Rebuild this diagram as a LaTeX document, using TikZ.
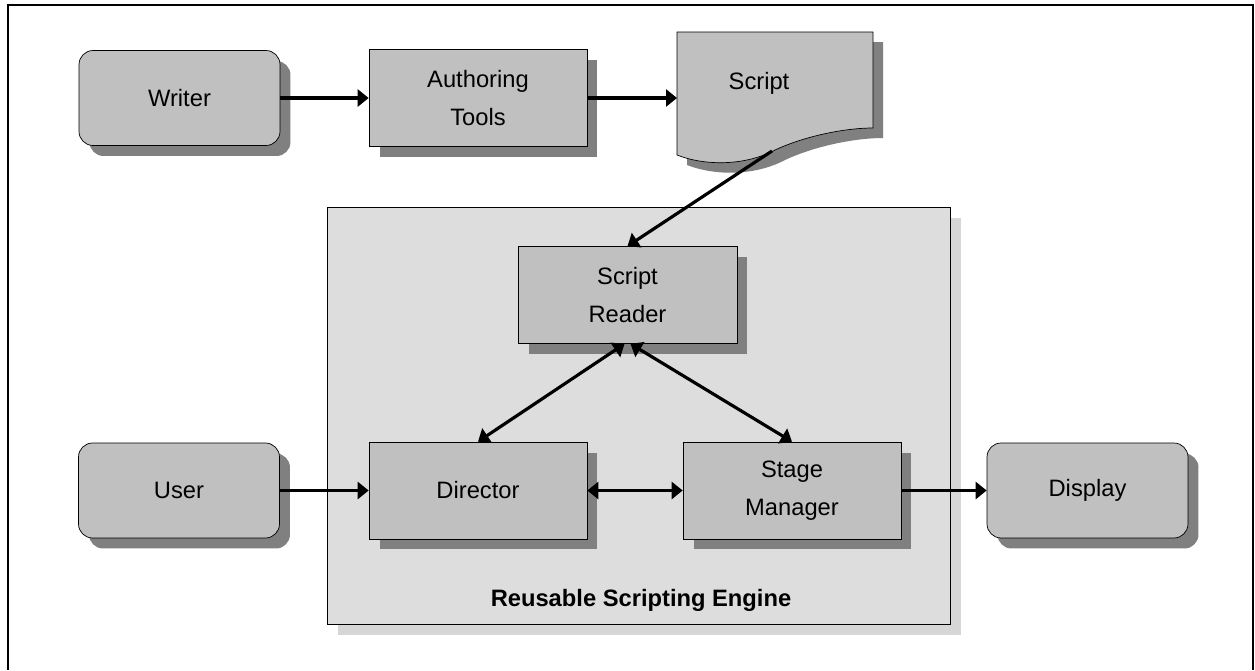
\documentclass[tikz,border=0pt]{standalone}
\usepackage{fontspec}
\setmainfont{Liberation Sans}
\usetikzlibrary{arrows.meta, positioning, shadows}
\definecolor{boxgrey}{RGB}{192,192,192}
\definecolor{shadegrey}{RGB}{128,128,128}
\definecolor{enginegrey}{RGB}{221,221,221}
\definecolor{engineshade}{RGB}{214,214,214}

\begin{document}
\begin{tikzpicture}[x=0.02cm, y=-0.02cm,
    box/.style={draw, fill=boxgrey, minimum width=4.36cm, minimum height=1.94cm, align=center,
        font=\fontsize{13.5}{21.5}\selectfont,
        drop shadow={shadow xshift=0.21cm, shadow yshift=-0.21cm, fill=shadegrey, opacity=1}},
    roundbox/.style={box, rounded corners=0.28cm, minimum width=4.02cm, minimum height=1.9cm},
    link/.style={-{Triangle[length=0.22cm, width=0.34cm]}, line width=1.8pt},
    twoway/.style={{Triangle[length=0.22cm, width=0.34cm]}-{Triangle[length=0.22cm, width=0.34cm]}, line width=1.8pt}]
    \useasboundingbox (0,0) rectangle (1255,670);
    \draw[line width=1.1pt] (8,670) -- (8,5) -- (1253,5) -- (1253,670);

    % engine frame
    \node[draw, fill=enginegrey, minimum width=12.46cm, minimum height=8.34cm,
        drop shadow={shadow xshift=0.22cm, shadow yshift=-0.22cm, fill=engineshade, opacity=1}] (engine) at (638.5,415.5) {};
    \node[font=\fontsize{13.5}{16}\selectfont\bfseries] (enginelabel) at (641,600) {Reusable Scripting Engine};

    % top row
    \node[roundbox] (writer) at (179.5,98) {Writer};
    \node[box] (authoring) at (478,98) {Authoring\\Tools};

    % script document
    \fill[shadegrey, shift={(10,10)}] (677,32) -- (873,32) -- (873,128)
        .. controls (845,128) and (805,136) .. (775,150)
        .. controls (745,166) and (705,166) .. (677,155) -- cycle;
    \draw[fill=boxgrey] (677,32) -- (873,32) -- (873,128)
        .. controls (845,128) and (805,136) .. (775,150)
        .. controls (745,166) and (705,166) .. (677,155) -- cycle;
    \node[font=\fontsize{13.5}{16}\selectfont] (script) at (759,83) {Script};
    \coordinate (scriptin) at (677,98);
    \coordinate (scriptout) at (772,151);

    % engine parts
    \node[box, minimum width=4.38cm] (reader) at (627.5,295) {Script\\Reader};
    \node[box] (director) at (478,490.5) {Director};
    \node[box] (stage) at (792,490.5) {Stage\\Manager};

    % outside
    \node[roundbox] (user) at (179,490.5) {User};
    \node[roundbox] (display) at (1087.5,490.5) {Display};

    % connectors
    \draw[link] (writer) -- (authoring);
    \draw[link] (authoring) -- (scriptin);
    \draw[link] (scriptout) -- (reader.north);
    \draw[twoway] ([xshift=-0.06cm]reader.south) -- (director.north);
    \draw[twoway] ([xshift=0.06cm]reader.south) -- (stage.north);
    \draw[link] (user) -- (director);
    \draw[twoway] (director) -- (stage);
    \draw[link] (stage) -- (display);
\end{tikzpicture}
\end{document}
